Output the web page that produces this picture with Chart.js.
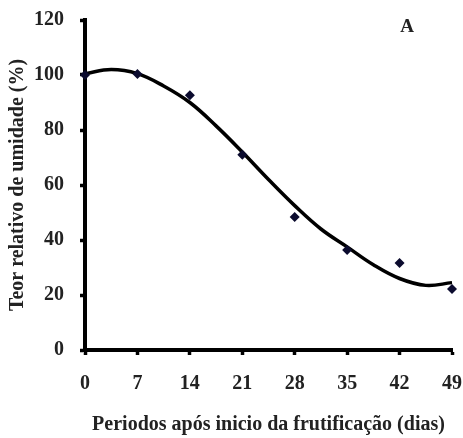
<!DOCTYPE html>
<html>
<head>
<meta charset="utf-8">
<script src="https://cdn.jsdelivr.net/npm/chart.js@4"></script>
<style>
html,body{margin:0;padding:0;background:#fff;}
canvas{display:block;}
</style>
</head>
<body>
<canvas id="c" width="463" height="438"></canvas>
<script>
const days = [0, 7, 14, 21, 28, 35, 42, 49];
const humidity = [100, 100.4, 92.6, 71, 48.4, 36.4, 31.6, 22.2];
const trendDays = [0, 3.5, 7, 10.5, 14, 17.5, 21, 24.5, 28, 31.5, 35, 38.5, 42, 45.5, 49];
const trendValues = [100.5, 102, 100.5, 96, 90, 81.5, 72, 62, 52.5, 44, 37.5, 31, 26, 23.5, 24.5];
const xTicks = [0, 7, 14, 21, 28, 35, 42, 49];
const yTicks = [0, 20, 40, 60, 80, 100, 120];
const panelLabel = 'A';
const xTitle = 'Periodos após inicio da frutificação (dias)';
const yTitle = 'Teor relativo de umidade (%)';

const font = {family: '"Liberation Serif", "DejaVu Serif", serif', size: 20, weight: 'bold'};

const labelPlugin = {
  id: 'panelLabel',
  afterDraw(chart) {
    const {ctx, scales} = chart;
    ctx.save();
    ctx.font = 'bold 19px "Liberation Serif", serif';
    ctx.fillStyle = '#222';
    ctx.textAlign = 'center';
    ctx.textBaseline = 'middle';
    ctx.fillText(panelLabel, scales.x.getPixelForValue(43), scales.y.getPixelForValue(117.5));
    ctx.restore();
  }
};

new Chart(document.getElementById('c'), {
  data: {
    datasets: [
      {
        type: 'line',
        data: trendDays.map((d, i) => ({x: d, y: trendValues[i]})),
        borderColor: '#000',
        borderWidth: 3.5,
        pointRadius: 0,
        tension: 0.4,
        fill: false,
        clip: false,
        order: 2
      },
      {
        type: 'scatter',
        data: days.map((d, i) => ({x: d, y: humidity[i]})),
        pointStyle: 'rectRot',
        pointRadius: 5,
        backgroundColor: '#0b0b2e',
        borderColor: '#0b0b2e',
        borderWidth: 0,
        clip: false,
        order: 1
      }
    ]
  },
  options: {
    responsive: false,
    animation: false,
    events: [],
    layout: {padding: {left: 0, right: 11, top: 20, bottom: 0}},
    plugins: {legend: {display: false}, tooltip: {enabled: false}},
    scales: {
      x: {
        type: 'linear',
        min: 0, max: 49,
        afterBuildTicks(scale) { scale.ticks = xTicks.map(v => ({value: v})); },
        afterFit(scale) { scale.height = 88; scale.paddingLeft = 0; scale.paddingRight = 0; },
        border: {display: true, color: '#000', width: 4},
        grid: {drawOnChartArea: false, drawTicks: true, tickLength: 5, tickWidth: 3.5, tickColor: '#000'},
        ticks: {color: '#222', font: font, padding: 17, maxRotation: 0},
        title: {display: true, text: xTitle, color: '#222', font: font, padding: {top: 0, bottom: 1}}
      },
      y: {
        type: 'linear',
        min: 0, max: 120,
        afterBuildTicks(scale) { scale.ticks = yTicks.map(v => ({value: v})); },
        afterFit(scale) { scale.width = 85; scale.paddingTop = 0; scale.paddingBottom = 0; },
        border: {display: true, color: '#000', width: 4},
        grid: {drawOnChartArea: false, drawTicks: true, tickLength: 5, tickWidth: 3.5, tickColor: '#000'},
        ticks: {color: '#222', font: font, padding: 16},
        title: {display: true, text: yTitle, color: '#222', font: font, padding: {top: 6, bottom: 0}}
      }
    }
  },
  plugins: [labelPlugin]
});
</script>
</body>
</html>
